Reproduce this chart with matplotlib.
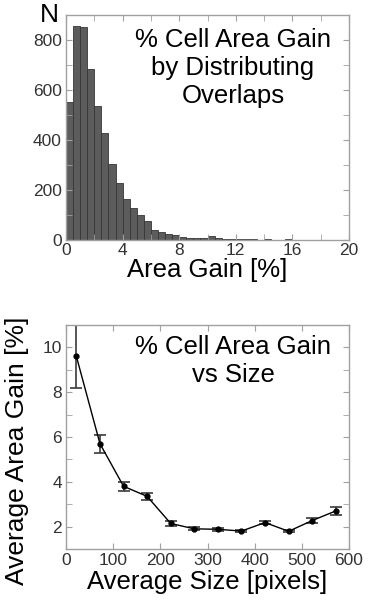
import numpy as np
import matplotlib
matplotlib.use("Agg")
import matplotlib.pyplot as plt
from matplotlib.ticker import MultipleLocator

plt.rcParams['font.family'] = ['Liberation Sans', 'DejaVu Sans']

# Histogram data (bin width 0.5 %, 0..20)
bin_edges = np.arange(0, 20.5, 0.5)
counts = [553, 856, 853, 683, 536, 429, 304, 227, 164, 128,
          100, 76, 40, 33, 25, 20, 13, 10, 9, 10,
          17, 10, 6, 5, 4, 3, 3, 2, 3, 1,
          2, 3, 1, 2, 1, 2, 2, 1, 1, 0]

# Size vs gain data
sizes = [22, 72, 122, 172, 222, 272, 322, 372, 422, 472, 522, 572]
gain = [9.6, 5.7, 3.8, 3.35, 2.14, 1.9, 1.88, 1.8, 2.18, 1.79, 2.27, 2.7]
gain_err = [1.4, 0.4, 0.19, 0.16, 0.11, 0.07, 0.06, 0.05, 0.05, 0.05, 0.1, 0.18]

spine_col = '#a0a0a0'
tick_col = '#333333'

fig = plt.figure(figsize=(3.84, 6.0), dpi=100)

def style(ax):
    for s in ax.spines.values():
        s.set_color(spine_col)
        s.set_linewidth(1.0)
    ax.tick_params(which='both', direction='in', top=True, right=True,
                   color=spine_col, labelcolor=tick_col, labelsize=12.5)
    ax.tick_params(axis='x', pad=2)
    ax.tick_params(axis='y', pad=3)
    ax.tick_params(which='major', length=4)
    ax.tick_params(which='minor', length=4)

ax1 = fig.add_axes([66/384, 1-240/600, (349-66)/384, (240-15)/600])
ax1.bar(bin_edges[:-1], counts, width=0.5, align='edge',
        color='#5c5c5c', edgecolor='#363636', linewidth=0.6)
ax1.set_xlim(0, 20)
ax1.set_ylim(0, 900)
ax1.xaxis.set_major_locator(MultipleLocator(4))
ax1.xaxis.set_minor_locator(MultipleLocator(2))
ax1.yaxis.set_major_locator(MultipleLocator(200))
ax1.yaxis.set_minor_locator(MultipleLocator(100))
style(ax1)
ax1.set_xlabel('Area Gain [%]', fontsize=18.5, labelpad=0)
ax1.text(-0.057, 1.0, 'N', transform=ax1.transAxes, fontsize=19,
         ha='center', va='center')
ax1.text(0.59, 0.765, '% Cell Area Gain\nby Distributing\nOverlaps',
         transform=ax1.transAxes, fontsize=18.5, ha='center', va='center',
         linespacing=1.2)

ax2 = fig.add_axes([66/384, 1-549/600, (349-66)/384, (549-325)/600])
ax2.errorbar(sizes, gain, yerr=gain_err, color='black', marker='o',
             markersize=3.5, linewidth=1.0, ecolor='#3a3a3a',
             elinewidth=1.2, capsize=4, capthick=1.2)
ax2.set_xlim(0, 600)
ax2.set_ylim(1, 11)
ax2.xaxis.set_major_locator(MultipleLocator(100))
ax2.yaxis.set_major_locator(MultipleLocator(2))
ax2.yaxis.set_minor_locator(MultipleLocator(1))
style(ax2)
ax2.tick_params(axis='x', pad=3)
ax2.set_xlabel('Average Size [pixels]', fontsize=18.5, labelpad=1)
ax2.set_ylabel('Average Area Gain [%]', fontsize=19)
ax2.yaxis.set_label_coords(-0.13, 0.44)
ax2.text(0.59, 0.84, '% Cell Area Gain\nvs Size',
         transform=ax2.transAxes, fontsize=18.5, ha='center', va='center',
         linespacing=1.2)

fig.savefig('out.png', dpi=100, facecolor='white')
